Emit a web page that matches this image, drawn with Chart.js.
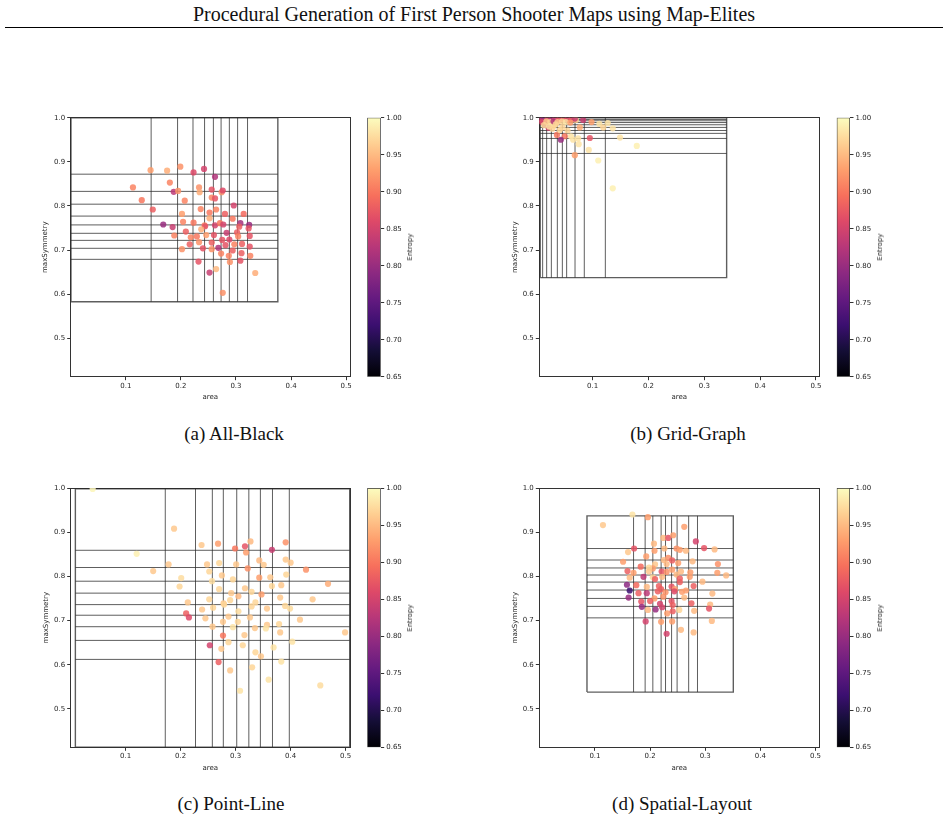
<!DOCTYPE html>
<html><head><meta charset="utf-8">
<script src="https://cdn.jsdelivr.net/npm/chart.js@4"></script>
<style>
body{margin:0;background:#fff;}
#page{position:relative;width:948px;height:821px;overflow:hidden;background:#fff;}
canvas{position:absolute;}
.serif{position:absolute;font-family:"Liberation Serif","Times New Roman",serif;color:#111;white-space:nowrap;transform:translate(-50%,-50%);}
.cbl{position:absolute;font-family:"DejaVu Sans",sans-serif;font-size:7px;color:#262626;white-space:nowrap;transform:translate(-50%,-50%) rotate(-90deg);}
#rule{position:absolute;left:5px;width:938px;top:27px;height:0;border-top:1px solid #000;}
</style></head>
<body><div id="page"></div>
<script>
// ---------- data ----------
const xTicks = [0.1, 0.2, 0.3, 0.4, 0.5];
const yTicks = [0.5, 0.6, 0.7, 0.8, 0.9, 1.0];
const cbTicks = [0.65, 0.70, 0.75, 0.80, 0.85, 0.90, 0.95, 1.00];
const xLabel = 'area';
const yLabel = 'maxSymmetry';
const cbLabel = 'Entropy';
const pageTitle = 'Procedural Generation of First Person Shooter Maps using Map-Elites';
const captions = ['(a) All-Black', '(b) Grid-Graph', '(c) Point-Line', '(d) Spatial-Layout'];

// (a) All-Black
const aArea = [0.113,0.129,0.145,0.149,0.175,0.199,0.223,0.242,0.262,0.180,0.187,0.195,0.207,0.233,0.234,0.256,0.256,0.262,0.274,0.276,0.202,0.236,0.252,0.252,0.264,0.296,0.280,0.314,0.294,0.168,0.185,0.204,0.223,0.243,0.244,0.237,0.262,0.271,0.277,0.308,0.324,0.306,0.323,0.188,0.209,0.218,0.229,0.246,0.260,0.283,0.302,0.304,0.325,0.288,0.275,0.216,0.233,0.256,0.297,0.311,0.281,0.268,0.325,0.202,0.240,0.256,0.294,0.273,0.310,0.287,0.326,0.232,0.289,0.308,0.264,0.252,0.335,0.276];
const aSym  = [0.842,0.813,0.881,0.792,0.880,0.889,0.876,0.884,0.866,0.853,0.832,0.834,0.812,0.842,0.831,0.837,0.819,0.817,0.831,0.835,0.782,0.793,0.785,0.772,0.792,0.801,0.782,0.782,0.771,0.758,0.752,0.764,0.762,0.756,0.754,0.747,0.756,0.761,0.758,0.761,0.757,0.753,0.749,0.733,0.742,0.729,0.731,0.734,0.734,0.739,0.740,0.731,0.732,0.724,0.723,0.713,0.718,0.717,0.713,0.714,0.711,0.705,0.708,0.702,0.704,0.702,0.699,0.692,0.693,0.687,0.687,0.674,0.673,0.676,0.657,0.649,0.648,0.603];
const aEnt  = [0.91,0.90,0.93,0.88,0.94,0.92,0.86,0.85,0.82,0.91,0.83,0.92,0.91,0.92,0.94,0.87,0.91,0.87,0.92,0.86,0.93,0.91,0.90,0.94,0.91,0.85,0.88,0.89,0.90,0.80,0.84,0.91,0.90,0.91,0.87,0.94,0.85,0.90,0.85,0.81,0.80,0.88,0.87,0.91,0.88,0.91,0.90,0.93,0.87,0.84,0.88,0.91,0.87,0.86,0.87,0.88,0.92,0.88,0.91,0.88,0.87,0.82,0.87,0.92,0.87,0.92,0.88,0.91,0.88,0.91,0.91,0.87,0.92,0.87,0.95,0.84,0.94,0.92];
const aBoxX = [0.0005, 0.376];
const aBoxY = [0.583, 1.0];
const aVLines = [0.146,0.194,0.222,0.243,0.259,0.273,0.288,0.303,0.321];
const aHLines = [0.872,0.833,0.804,0.777,0.757,0.738,0.722,0.704,0.679];

// (b) Grid-Graph
const bArea = [0.098,0.112,0.119,0.127,0.136,0.149,0.179,0.095,0.093,0.110,0.136,0.068,0.075,0.074,0.065,0.061,0.050,0.043,0.036,0.077,0.055,0.041,0.030,0.021,0.015,0.070,0.083,0.006,0.012,0.019,0.026,0.033,0.040,0.048,0.055,0.062,0.068,0.009,0.017,0.024,0.030,0.037,0.045,0.052,0.060,0.034,0.013,0.022,0.028,0.046];
const bSym  = [0.990,0.986,0.978,0.988,0.976,0.955,0.936,0.954,0.927,0.903,0.840,0.915,0.940,0.953,0.950,0.958,0.958,0.950,0.961,0.978,0.971,0.972,0.982,0.977,0.985,0.995,0.995,0.996,0.996,0.997,0.996,0.997,0.996,0.997,0.996,0.997,0.998,0.990,0.991,0.990,0.992,0.990,0.991,0.990,0.989,0.985,0.983,0.980,0.975,0.978];
const bEnt  = [0.93,0.98,0.97,0.98,0.98,0.98,0.99,0.87,0.98,0.99,0.99,0.93,0.98,0.98,0.98,0.98,0.90,0.80,0.90,0.94,0.97,0.97,0.97,0.85,0.80,0.96,0.84,0.84,0.80,0.87,0.82,0.86,0.87,0.88,0.86,0.87,0.84,0.86,0.96,0.97,0.82,0.96,0.97,0.98,0.93,0.97,0.97,0.98,0.97,0.97];
const bBoxX = [0.006, 0.340];
const bBoxY = [0.6375, 1.0];
const bVLines = [0.0104,0.0176,0.026,0.0367,0.0457,0.0534,0.0684,0.085,0.1227];
const bHLines = [0.919,0.953,0.9645,0.971,0.978,0.984,0.989,0.993,0.996];

// (c) Point-Line
const cArea = [0.040,0.188,0.120,0.150,0.178,0.201,0.198,0.213,0.210,0.215,0.238,0.268,0.299,0.317,0.327,0.366,0.391,0.248,0.270,0.301,0.319,0.343,0.351,0.322,0.391,0.400,0.428,0.468,0.252,0.275,0.295,0.257,0.343,0.363,0.392,0.366,0.383,0.270,0.317,0.292,0.305,0.329,0.347,0.252,0.290,0.278,0.279,0.336,0.329,0.381,0.440,0.390,0.399,0.357,0.239,0.259,0.305,0.287,0.326,0.417,0.245,0.277,0.304,0.258,0.295,0.335,0.357,0.355,0.379,0.381,0.499,0.277,0.316,0.403,0.253,0.287,0.313,0.336,0.369,0.346,0.274,0.269,0.383,0.290,0.330,0.360,0.454,0.308];
const cSym  = [0.998,0.908,0.851,0.812,0.827,0.796,0.777,0.741,0.716,0.707,0.871,0.874,0.863,0.868,0.879,0.860,0.877,0.827,0.830,0.827,0.854,0.836,0.826,0.818,0.838,0.831,0.815,0.783,0.811,0.802,0.793,0.789,0.797,0.798,0.804,0.778,0.780,0.771,0.773,0.762,0.755,0.765,0.759,0.748,0.746,0.739,0.736,0.741,0.732,0.752,0.748,0.733,0.727,0.727,0.725,0.729,0.721,0.709,0.707,0.702,0.705,0.697,0.697,0.686,0.685,0.683,0.690,0.682,0.692,0.673,0.673,0.666,0.667,0.652,0.644,0.651,0.644,0.628,0.639,0.619,0.636,0.606,0.607,0.587,0.594,0.566,0.553,0.541];
const cEnt  = [0.995,0.96,0.99,0.96,0.96,0.975,0.97,0.96,0.88,0.86,0.96,0.93,0.90,0.87,0.95,0.84,0.92,0.96,0.97,0.96,0.93,0.95,0.96,0.92,0.96,0.96,0.92,0.94,0.97,0.96,0.97,0.975,0.93,0.96,0.97,0.97,0.96,0.97,0.96,0.96,0.95,0.97,0.93,0.97,0.97,0.96,0.97,0.97,0.97,0.96,0.96,0.97,0.975,0.96,0.96,0.97,0.975,0.96,0.96,0.96,0.96,0.96,0.97,0.96,0.98,0.96,0.96,0.98,0.97,0.96,0.96,0.90,0.96,0.98,0.85,0.97,0.97,0.97,0.98,0.96,0.96,0.88,0.98,0.96,0.97,0.98,0.975,0.98];
const cBoxX = [0.0085, 0.5075];
const cBoxY = [0.4135, 0.998];
const cVLines = [0.172,0.227,0.2576,0.2776,0.302,0.324,0.345,0.367,0.3976];
const cHLines = [0.859,0.820,0.789,0.762,0.736,0.712,0.686,0.655,0.612];

// (d) Spatial-Layout
const dArea = [0.1145,0.168,0.196,0.262,0.224,0.233,0.242,0.283,0.298,0.317,0.171,0.207,0.208,0.226,0.248,0.254,0.265,0.160,0.193,0.151,0.225,0.233,0.240,0.230,0.251,0.277,0.209,0.205,0.183,0.198,0.323,0.159,0.170,0.198,0.221,0.230,0.240,0.256,0.273,0.322,0.338,0.163,0.188,0.205,0.209,0.222,0.248,0.254,0.272,0.254,0.295,0.158,0.175,0.194,0.216,0.220,0.239,0.245,0.244,0.279,0.163,0.161,0.179,0.194,0.214,0.228,0.258,0.265,0.262,0.313,0.224,0.208,0.184,0.200,0.239,0.218,0.275,0.309,0.185,0.222,0.241,0.307,0.196,0.210,0.253,0.280,0.231,0.241,0.192,0.220,0.240,0.312,0.256,0.279,0.230];
const dSym  = [0.916,0.940,0.934,0.912,0.887,0.887,0.893,0.879,0.864,0.861,0.863,0.874,0.858,0.863,0.863,0.860,0.858,0.855,0.845,0.833,0.837,0.842,0.836,0.828,0.830,0.834,0.827,0.818,0.822,0.820,0.828,0.812,0.808,0.811,0.811,0.810,0.815,0.811,0.809,0.808,0.802,0.797,0.799,0.798,0.794,0.799,0.804,0.795,0.799,0.787,0.788,0.781,0.780,0.776,0.778,0.771,0.777,0.771,0.766,0.778,0.768,0.752,0.762,0.762,0.766,0.764,0.765,0.768,0.752,0.761,0.754,0.750,0.743,0.744,0.744,0.738,0.739,0.736,0.731,0.730,0.735,0.727,0.724,0.725,0.724,0.722,0.716,0.721,0.698,0.697,0.698,0.699,0.679,0.673,0.670];
const dEnt  = [0.96,0.98,0.93,0.93,0.95,0.87,0.93,0.85,0.87,0.95,0.87,0.95,0.93,0.95,0.92,0.93,0.95,0.96,0.93,0.93,0.95,0.92,0.88,0.95,0.93,0.95,0.96,0.93,0.89,0.97,0.92,0.88,0.93,0.96,0.87,0.92,0.93,0.95,0.93,0.93,0.95,0.95,0.83,0.97,0.88,0.95,0.95,0.88,0.93,0.88,0.95,0.79,0.89,0.95,0.88,0.88,0.87,0.93,0.86,0.88,0.72,0.80,0.88,0.83,0.88,0.92,0.93,0.93,0.95,0.95,0.92,0.93,0.87,0.88,0.87,0.85,0.88,0.95,0.80,0.85,0.88,0.87,0.95,0.80,0.97,0.95,0.93,0.88,0.85,0.93,0.93,0.95,0.95,0.95,0.85];
const dBoxX = [0.0855, 0.351];
const dBoxY = [0.538, 0.937];
const dVLines = [0.170,0.191,0.205,0.220,0.228,0.239,0.249,0.270,0.286];
const dHLines = [0.863,0.837,0.819,0.803,0.787,0.769,0.750,0.732,0.706];

const entMin = 0.65, entMax = 1.0;

// magma colormap stops (deciles)
const MAGMA = [[0,0,4],[20,14,54],[59,15,112],[100,26,128],[140,41,129],[183,55,121],[222,73,104],[247,112,92],[254,159,109],[254,207,146],[252,253,191]];

// ---------- helpers ----------
function magma(t){
  t = Math.max(0, Math.min(1, t));
  const n = MAGMA.length - 1, f = t * n;
  const i = Math.min(n - 1, Math.floor(f)), u = f - i;
  const a = MAGMA[i], b = MAGMA[i + 1];
  return [0,1,2].map(k => Math.round(a[k] + (b[k] - a[k]) * u));
}
function entColor(e, alpha){
  const c = magma((e - entMin) / (entMax - entMin));
  return 'rgba(' + c[0] + ',' + c[1] + ',' + c[2] + ',' + alpha + ')';
}
const page = document.getElementById('page');
function addCanvas(r){
  const c = document.createElement('canvas');
  c.width = r.w; c.height = r.h;
  c.style.left = r.l + 'px'; c.style.top = r.t + 'px';
  c.style.width = r.w + 'px'; c.style.height = r.h + 'px';
  page.appendChild(c);
  return c;
}
function addText(cls, txt, x, y, size){
  const d = document.createElement('div');
  d.className = cls; d.textContent = txt;
  d.style.left = x + 'px'; d.style.top = y + 'px';
  if (size) d.style.fontSize = size + 'px';
  page.appendChild(d);
  return d;
}
const tickFont = {family: 'DejaVu Sans', size: 7};
const textColor = '#262626';
const axisColor = '#333';
const lineColor = 'rgba(40,40,40,0.75)';

function panel(p){
  const cv = addCanvas(p.canvas);
  const C = p.canvas, A = p.area;
  const datasets = [];
  datasets.push({
    data: p.x.map((v, i) => ({x: v, y: p.y[i]})),
    pointRadius: 3.1, pointHoverRadius: 3.1, pointBorderWidth: 0,
    pointBackgroundColor: p.e.map(e => entColor(e, 0.85)),
    showLine: false
  });
  const [bx0, bx1] = p.boxX, [by0, by1] = p.boxY;
  const lineDs = (pts, w) => ({data: pts, showLine: true, pointRadius: 0, borderColor: lineColor, borderWidth: w, fill: false, tension: 0});
  datasets.push(lineDs([{x:bx0,y:by0},{x:bx1,y:by0},{x:bx1,y:by1},{x:bx0,y:by1},{x:bx0,y:by0}], 1.4));
  p.v.forEach(v => datasets.push(lineDs([{x:v,y:by0},{x:v,y:by1}], 1)));
  p.h.forEach(h => datasets.push(lineDs([{x:bx0,y:h},{x:bx1,y:h}], 1)));
  const leftW = A.L - C.l, rightW = C.l + C.w - A.R, topH = A.T - C.t, botH = C.t + C.h - A.B;
  new Chart(cv, {
    type: 'scatter',
    data: {datasets},
    options: {
      responsive: false, animation: false, devicePixelRatio: 1, events: [],
      layout: {padding: 0},
      plugins: {legend: {display: false}, tooltip: {enabled: false}},
      scales: {
        x: {
          type: 'linear', position: 'bottom', min: p.xMin, max: p.xMax,
          afterBuildTicks: s => { s.ticks = xTicks.map(v => ({value: v})); },
          ticks: {font: tickFont, color: textColor, padding: 1.5, maxRotation: 0, autoSkip: false, callback: v => Number(v).toFixed(1)},
          grid: {display: true, drawOnChartArea: false, drawTicks: true, tickLength: 3.5, color: axisColor, lineWidth: 1},
          border: {display: true, color: axisColor, width: 1},
          title: {display: true, text: xLabel, font: tickFont, color: textColor, padding: {top: 0, bottom: C.t + C.h - p.xTitleY - 4.2}},
          afterFit: s => { s.height = botH; }
        },
        y: {
          type: 'linear', position: 'left', min: 0.413, max: 1.0,
          afterBuildTicks: s => { s.ticks = yTicks.map(v => ({value: v})); },
          ticks: {font: tickFont, color: textColor, padding: 2, autoSkip: false, callback: v => Number(v).toFixed(1)},
          grid: {display: true, drawOnChartArea: false, drawTicks: true, tickLength: 3.5, color: axisColor, lineWidth: 1},
          border: {display: true, color: axisColor, width: 1},
          title: {display: true, text: yLabel, font: tickFont, color: textColor, padding: {top: p.yTitleX - C.l - 4.2, bottom: 0}},
          afterFit: s => { s.width = leftW; }
        },
        x2: {
          type: 'linear', position: 'top', display: true,
          ticks: {display: false}, grid: {display: false},
          border: {display: true, color: axisColor, width: 1},
          afterFit: s => { s.height = topH; }
        },
        y2: {
          type: 'linear', position: 'right', display: true,
          ticks: {display: false}, grid: {display: false},
          border: {display: true, color: axisColor, width: 1},
          afterFit: s => { s.width = rightW; }
        }
      }
    }
  });
}

function colorbar(cb){
  const cv = addCanvas(cb.canvas);
  const C = cb.canvas, A = cb.area;
  const rightW = C.l + C.w - A.R;
  new Chart(cv, {
    type: 'bar',
    data: {labels: [cbLabel], datasets: [{
      data: [[entMin, entMax]],
      backgroundColor: ctx => {
        const ch = ctx.chart, ca = ch.chartArea;
        if (!ca) return '#000';
        const g = ch.ctx.createLinearGradient(0, ca.bottom, 0, ca.top);
        MAGMA.forEach((c, i) => g.addColorStop(i / (MAGMA.length - 1), 'rgb(' + c.join(',') + ')'));
        return g;
      },
      borderColor: axisColor, borderWidth: 1, borderSkipped: false,
      barPercentage: 1, categoryPercentage: 1
    }]},
    options: {
      responsive: false, animation: false, devicePixelRatio: 1, events: [],
      layout: {padding: {left: A.L - C.l, top: A.T - C.t, bottom: C.t + C.h - A.B, right: 0}},
      plugins: {legend: {display: false}, tooltip: {enabled: false}},
      scales: {
        x: {display: false},
        y: {
          position: 'right', min: entMin, max: entMax,
          afterBuildTicks: s => { s.ticks = cbTicks.map(v => ({value: v})); },
          ticks: {font: tickFont, color: textColor, padding: 2, autoSkip: false, callback: v => Number(v).toFixed(2)},
          grid: {display: true, drawOnChartArea: false, drawTicks: true, tickLength: 3.5, color: axisColor, lineWidth: 1},
          border: {display: false},
          afterFit: s => { s.width = rightW; }
        }
      }
    }
  });
  addText('cbl', cbLabel, cb.labelX, cb.labelY);
}

// ---------- page ----------
addText('serif', pageTitle, 474, 14, 20);
const rule = document.createElement('div'); rule.id = 'rule'; page.appendChild(rule);

panel({canvas:{l:20,t:105,w:335,h:300}, area:{L:70.7,R:350,T:117.7,B:376.7}, xMin:0.0, xMax:0.507, x:aArea, y:aSym, e:aEnt, boxX:aBoxX, boxY:aBoxY, v:aVLines, h:aHLines, xTitleY:396.7, yTitleX:45});
panel({canvas:{l:489,t:105,w:335,h:300}, area:{L:539.3,R:819.3,T:117.7,B:376.7}, xMin:0.0044, xMax:0.506, x:bArea, y:bSym, e:bEnt, boxX:bBoxX, boxY:bBoxY, v:bVLines, h:bHLines, xTitleY:396.7, yTitleX:515});
panel({canvas:{l:20,t:475,w:335,h:300}, area:{L:70.7,R:350,T:488,B:747.3}, xMin:0.0, xMax:0.508, x:cArea, y:cSym, e:cEnt, boxX:cBoxX, boxY:cBoxY, v:cVLines, h:cHLines, xTitleY:768, yTitleX:46});
panel({canvas:{l:489,t:475,w:335,h:300}, area:{L:539.3,R:819.3,T:488,B:747.3}, xMin:-0.001, xMax:0.507, x:dArea, y:dSym, e:dEnt, boxX:dBoxX, boxY:dBoxY, v:dVLines, h:dHLines, xTitleY:768, yTitleX:515});

colorbar({canvas:{l:358,t:105,w:62,h:285}, area:{L:367.3,R:380.7,T:117.7,B:376.7}, labelX:410, labelY:247});
colorbar({canvas:{l:827,t:105,w:62,h:285}, area:{L:836.7,R:850,T:117.7,B:376.7}, labelX:880, labelY:247});
colorbar({canvas:{l:358,t:475,w:62,h:285}, area:{L:367.3,R:380.7,T:488,B:747.3}, labelX:410, labelY:618});
colorbar({canvas:{l:827,t:475,w:62,h:285}, area:{L:836.7,R:850,T:488,B:747.3}, labelX:880, labelY:618});

addText('serif', captions[0], 234, 434, 19);
addText('serif', captions[1], 688, 434, 19);
addText('serif', captions[2], 231, 804, 19);
addText('serif', captions[3], 682, 804, 19);
</script>
</body></html>
